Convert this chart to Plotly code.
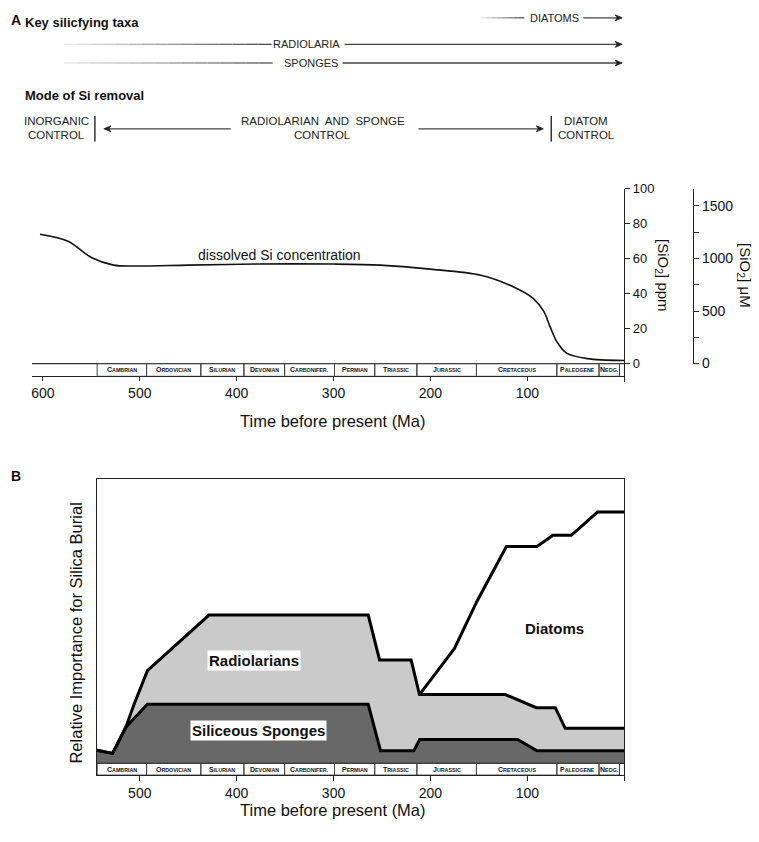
import plotly.graph_objects as go

W, H = 759, 842
def px(x): return x / W
def py(y): return 1 - y / H

FONT = "Liberation Sans, Arial, sans-serif"
INK = "#222222"

# ---------------- data ----------------
# Panel A: dissolved Si concentration (ppm) vs age (Ma)
si_age = [603, 574, 550, 527, 506, 450, 380, 300, 252, 200, 148, 114, 94, 83, 76, 69, 59, 38, 0]
si_ppm = [74, 70, 60.7, 56.3, 55.8, 56.3, 56.9, 56.9, 56.3, 54, 50.5, 43.8, 37.3, 29.8, 20.4, 12, 5.8, 2.8, 1.7]

# geological periods (boundaries as drawn, Ma)
periods = ["Cambrian", "Ordovician", "Silurian", "Devonian", "Carbonifer.", "Permian",
           "Triassic", "Jurassic", "Cretaceous", "Paleogene", "Neog."]
period_start = [544, 493, 437, 392.5, 350.5, 299, 257.5, 214, 152.5, 69.5, 26]
period_end = [493, 437, 392.5, 350.5, 299, 257.5, 214, 152.5, 69.5, 26, 4.8]

# Panel B: relative importance for silica burial (cumulative stack tops)
sponge_age = [544.3, 528.1, 514.4, 492.1, 264.2, 251.5, 217.2, 211.0, 110.0, 90.0, 0]
sponge_val = [4.6, 3.5, 12.7, 20.8, 20.8, 4.4, 4.4, 8.4, 8.4, 4.4, 4.4]

radio_age = [544.3, 528.1, 514.4, 505.9, 492.1, 428.6, 264.2, 252.5, 219.9, 211.3, 122.7, 90.7, 71.1, 60.8, 0]
radio_val = [4.6, 3.5, 12.7, 20.8, 32.6, 52.2, 52.2, 36.4, 36.4, 24.2, 24.2, 19.6, 19.6, 12.3, 12.3]

diatom_age = [211.3, 175.3, 151.9, 121.6, 90.0, 73.5, 54.6, 27.5, 0]
diatom_val = [24.2, 40.4, 57.1, 76.4, 76.4, 80.3, 80.3, 88.5, 88.5]

ppm_ticks = [0, 20, 40, 60, 80, 100]
um_ticks = [0, 500, 1000, 1500]
um_minor_ticks = [250, 750, 1250]
age_ticks_a = [600, 500, 400, 300, 200, 100]
age_ticks_b = [500, 400, 300, 200, 100]

UM_PER_PPM = 16.64

# ---------------- figure ----------------
fig = go.Figure()

fig.add_trace(go.Scatter(x=si_age, y=si_ppm, mode="lines", line=dict(color="#111", width=1.6, shape="spline", smoothing=0.9),
                         xaxis="x", yaxis="y", showlegend=False, hoverinfo="skip"))
fig.add_trace(go.Scatter(x=[None], y=[None], xaxis="x", yaxis="y2", showlegend=False, hoverinfo="skip"))

fig.add_trace(go.Scatter(x=sponge_age, y=sponge_val, mode="lines", fill="tozeroy", fillcolor="#686868",
                         line=dict(color="black", width=3), xaxis="x3", yaxis="y3", showlegend=False, hoverinfo="skip"))
fig.add_trace(go.Scatter(x=radio_age, y=radio_val, mode="lines", fill="tonexty", fillcolor="#cacaca",
                         line=dict(color="black", width=3), xaxis="x3", yaxis="y3", showlegend=False, hoverinfo="skip"))
fig.add_trace(go.Scatter(x=diatom_age, y=diatom_val, mode="lines",
                         line=dict(color="black", width=3), xaxis="x3", yaxis="y3", showlegend=False, hoverinfo="skip"))

shapes = []
annotations = []

def text(x, y, s, size=12, bold=False, xanchor="center", angle=0, color=INK, bg=None):
    d = dict(x=px(x), y=py(y), xref="paper", yref="paper", text=(f"<b>{s}</b>" if bold else s),
             showarrow=False, xanchor=xanchor, yanchor="middle", textangle=angle,
             font=dict(family=FONT, size=size, color=color))
    if bg:
        d.update(bgcolor=bg, borderpad=1)
    annotations.append(d)

def line(x0, y0, x1, y1, color="#444", width=1.3):
    shapes.append(dict(type="line", xref="paper", yref="paper", x0=px(x0), y0=py(y0), x1=px(x1), y1=py(y1),
                       line=dict(color=color, width=width)))

def fade_line(x0, x1, y, n=16):
    for i in range(n):
        t = (i + 0.5) / n
        g = int(235 - (235 - 75) * t)
        line(x0 + (x1 - x0) * i / n, y, x0 + (x1 - x0) * (i + 1) / n, y, color=f"rgb({g},{g},{g})")

def arrow(x_from, x_to, y):
    d = 1 if x_to > x_from else -1
    line(x_from, y, x_to - d * 4, y)
    pts = [(x_to, y), (x_to - d * 7, y - 3), (x_to - d * 5, y), (x_to - d * 7, y + 3)]
    path = "M " + " L ".join(f"{px(a):.5f},{py(b):.5f}" for a, b in pts) + " Z"
    shapes.append(dict(type="path", xref="paper", yref="paper", path=path, fillcolor="#222",
                       line=dict(color="#222", width=0.8)))

# ---- header texts ----
text(8, 13, "A", size=14, bold=True, xanchor="left", color="#111")
text(22, 16, "Key silicfying taxa", size=13, bold=True, xanchor="left", color="#111")

fade_line(480, 524, 11, n=8)
text(554, 11, "DIATOMS", size=11)
arrow(583, 622, 11)

fade_line(63, 271, 38)
text(306, 38, "RADIOLARIA", size=11)
arrow(344, 622, 38)

fade_line(63, 272, 57)
text(310, 57, "SPONGES", size=11)
arrow(342, 622, 57)

text(22, 90, "Mode of Si removal", size=13, bold=True, xanchor="left", color="#111")
text(56, 116, "INORGANIC", size=11.5)
text(56, 130, "CONTROL", size=11.5)
line(94, 111, 94, 137, color="#333", width=1.5)
arrow(230, 103, 124)
text(322, 116, "RADIOLARIAN  AND  SPONGE", size=11.5)
text(322, 130, "CONTROL", size=11.5)
arrow(418, 543, 124)
line(551, 111, 551, 137, color="#333", width=1.5)
text(586, 116, "DIATOM", size=11.5)
text(586, 130, "CONTROL", size=11.5)

# ---- panel A annotations ----
text(279, 252, "dissolved Si concentration", size=14, color="#111")
text(663, 273, "[SiO<sub>2</sub>] ppm", size=15, angle=90, color="#111")
text(745, 273, "[SiO<sub>2</sub>] μM", size=15, angle=90, color="#111")
text(332, 421, "Time before present (Ma)", size=16.5, color="#111")

# ---- panel B annotations ----
text(8, 477, "B", size=14, bold=True, xanchor="left", color="#111")
text(75, 637, "Relative Importance for Silica Burial", size=16.5, angle=-90, color="#111")
text(332, 818, "Time before present (Ma)", size=16.5, color="#111")
annotations.append(dict(x=(radio_age[5] + radio_age[6]) / 2 + 36, y=(sponge_val[3] + radio_val[5]) / 2 - 0.2,
                        xref="x3", yref="y3", text="<b>Radiolarians</b>", showarrow=False,
                        font=dict(family=FONT, size=15, color="#111"), bgcolor="white", borderpad=1))
annotations.append(dict(x=(sponge_age[3] + sponge_age[4]) / 2 - 0.5, y=sponge_val[3] / 2 + 1.3,
                        xref="x3", yref="y3", text="<b>Siliceous Sponges</b>", showarrow=False,
                        font=dict(family=FONT, size=15, color="#111"), bgcolor="white", borderpad=1))
annotations.append(dict(x=72, y=47.5, xref="x3", yref="y3", text="<b>Diatoms</b>", showarrow=False,
                        font=dict(family=FONT, size=15, color="#111")))

# ---- period bars ----
def sc(name):
    return f"<b>{name[0]}<span style='font-size:5.3px'>{name[1:].upper()}</span></b>"

for xr, yr, ybot, xleft in (("x", "y", -7.3, 611.3), ("x3", "y3", -4.15, 544.3)):
    shapes.append(dict(type="line", xref=xr, yref=yr, x0=xleft, x1=0, y0=0, y1=0, line=dict(color="#333", width=1.2)))
    for name, s, e in zip(periods, period_start, period_end):
        shapes.append(dict(type="rect", xref=xr, yref=yr, x0=s, x1=e, y0=ybot, y1=0,
                           line=dict(color="#444", width=1), fillcolor="rgba(0,0,0,0)"))
        annotations.append(dict(x=(s + e) / 2, y=ybot / 2, xref=xr, yref=yr, text=sc(name), showarrow=False,
                                font=dict(family=FONT, size=7, color="#111"), xanchor="center", yanchor="middle"))

axis_common = dict(showgrid=False, zeroline=False, linecolor="#222", linewidth=1, tickcolor="#222",
                   ticks="outside", tickfont=dict(family=FONT, size=14, color="#111"))
zero_tick = dict(tickmode="array", tickvals=[0], ticks="outside", ticklen=5, tickcolor="#222", showgrid=False)

fig.update_layout(
    width=W, height=H, margin=dict(l=0, r=0, t=0, b=0),
    paper_bgcolor="white", plot_bgcolor="rgba(0,0,0,0)", showlegend=False,
    xaxis=dict(domain=[px(31), px(624)], range=[611.3, 0], anchor="y", showline=True, ticklen=4,
               tickvals=age_ticks_a, minor=zero_tick, **axis_common),
    yaxis=dict(domain=[py(376), py(185)], range=[-7.3, 100], anchor="x", side="right", showline=True, ticklen=5,
               tickvals=ppm_ticks, **{**axis_common, "tickfont": dict(family=FONT, size=13, color="#111")}),
    yaxis2=dict(domain=[py(363), py(185)], range=[0, 100 * UM_PER_PPM], anchor="free", position=px(693), side="right",
                showline=True, ticklen=5, tickvals=um_ticks,
                minor=dict(tickmode="array", tickvals=um_minor_ticks, ticks="outside", ticklen=5, tickcolor="#222", showgrid=False),
                **{**axis_common, "tickfont": dict(family=FONT, size=14, color="#111")}),
    xaxis3=dict(domain=[px(96), px(624)], range=[544.3, 0], anchor="y3", showline=True, mirror=True, ticklen=5,
                tickvals=age_ticks_b, minor=zero_tick, **axis_common),
    yaxis3=dict(domain=[py(782), py(481)], range=[-4.15, 100], anchor="x3", showline=True, mirror=True,
                showgrid=False, zeroline=False, linecolor="#222", linewidth=1, ticks="", showticklabels=False),
    shapes=shapes, annotations=annotations,
)

fig.write_html("out.html", config={"displayModeBar": False},
               post_script="document.body.style.margin='0';document.body.style.overflow='hidden';")
